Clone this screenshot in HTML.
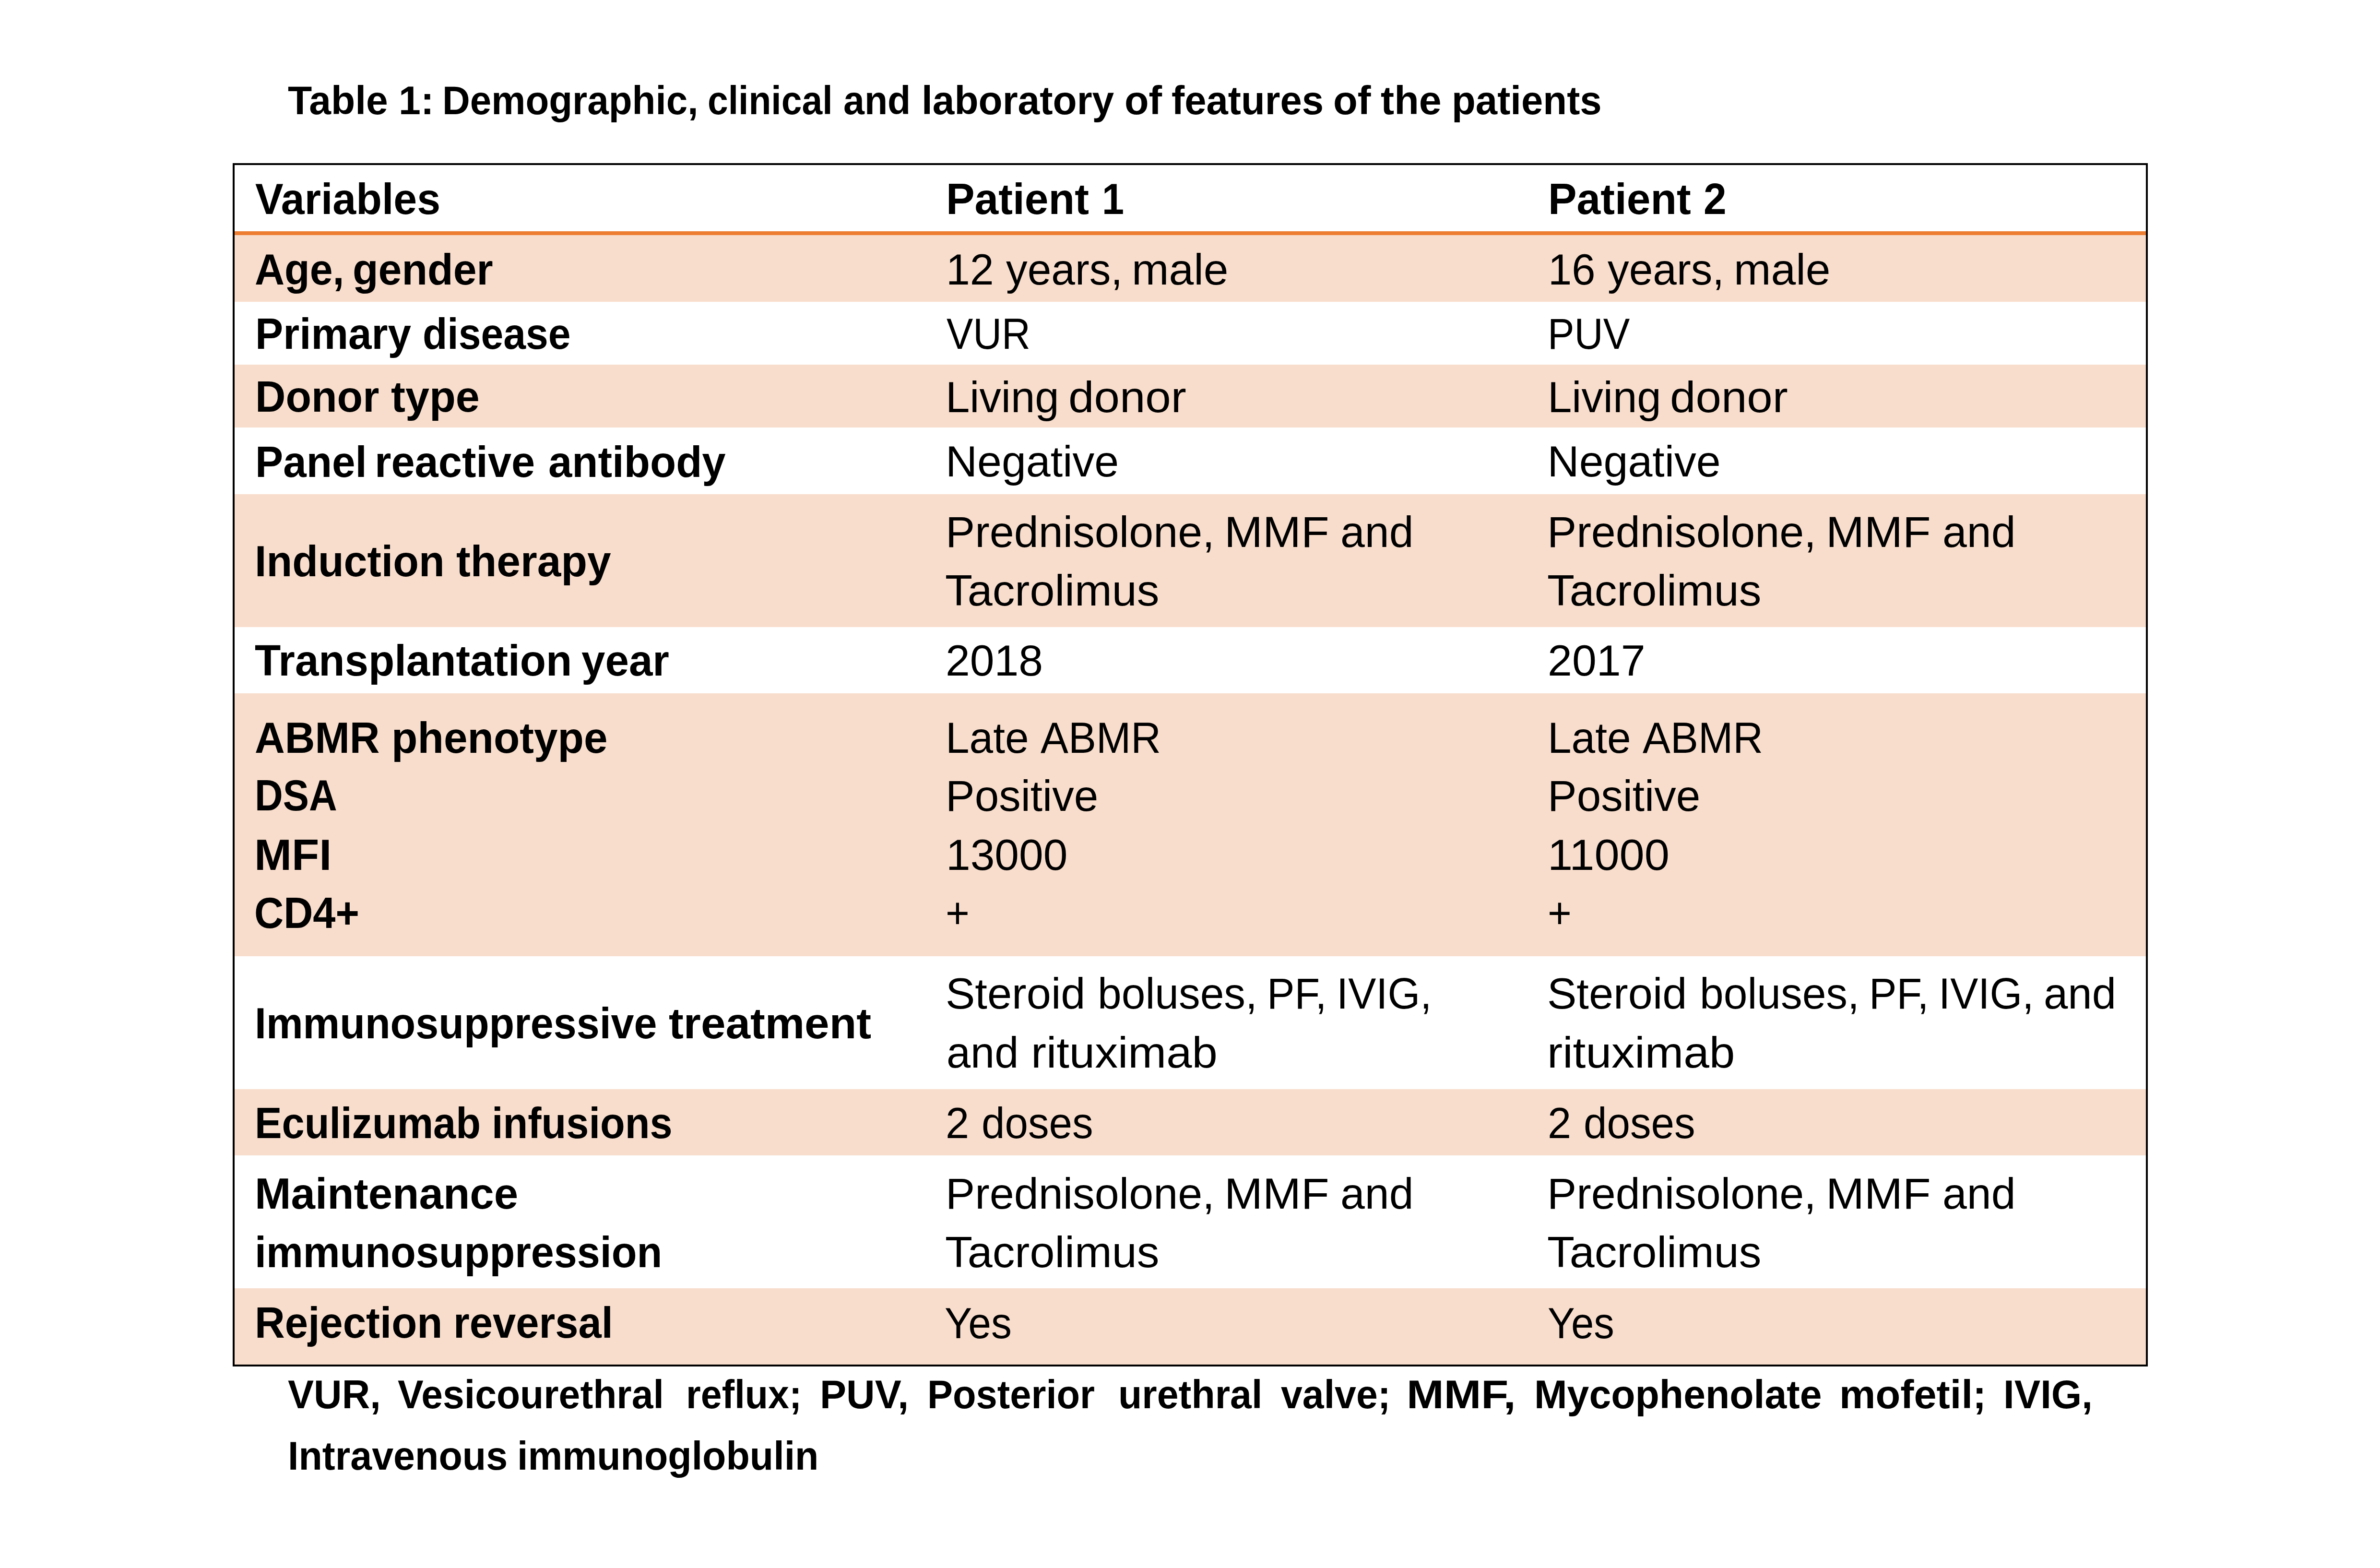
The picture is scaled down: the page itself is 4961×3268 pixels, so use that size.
<!DOCTYPE html>
<html><head><meta charset="utf-8"><title>Table 1</title><style>
html,body{margin:0;padding:0;background:#fff}
body{width:4961px;height:3268px;position:relative;overflow:hidden;font-family:"Liberation Sans",sans-serif;color:#000}
.r{position:absolute;left:489px;width:3984px;background:#F8DDCC}
.b{position:absolute;background:#000}
.t{position:absolute;white-space:nowrap;transform-origin:0 0}
.w7{font-weight:700}
</style></head><body>
<div class="r" style="top:490px;height:139px"></div>
<div class="r" style="top:760px;height:131px"></div>
<div class="r" style="top:1030px;height:277px"></div>
<div class="r" style="top:1445px;height:548px"></div>
<div class="r" style="top:2270px;height:138px"></div>
<div class="r" style="top:2685px;height:159px"></div>
<div style="position:absolute;left:489px;top:482px;width:3984px;height:8px;background:#ED7D31"></div>
<div class="b" style="left:485px;top:340px;width:3992px;height:4px"></div>
<div class="b" style="left:485px;top:2844px;width:3992px;height:4px"></div>
<div class="b" style="left:485px;top:340px;width:4px;height:2508px"></div>
<div class="b" style="left:4473px;top:340px;width:4px;height:2508px"></div>
<div class="t w7" style="left:600.21px;top:168.00px;font-size:83.5px;line-height:83.5px;transform:scaleX(0.9856)">Table</div>
<div class="t w7" style="left:830.66px;top:168.00px;font-size:83.5px;line-height:83.5px;transform:scaleX(0.9885)">1:</div>
<div class="t w7" style="left:922.45px;top:168.00px;font-size:83.5px;line-height:83.5px;transform:scaleX(0.9580)">Demographic,</div>
<div class="t w7" style="left:1474.84px;top:168.00px;font-size:83.5px;line-height:83.5px;transform:scaleX(0.9201)">clinical</div>
<div class="t w7" style="left:1757.81px;top:168.00px;font-size:83.5px;line-height:83.5px;transform:scaleX(0.9454)">and</div>
<div class="t w7" style="left:1920.90px;top:168.00px;font-size:83.5px;line-height:83.5px;transform:scaleX(0.9826)">laboratory</div>
<div class="t w7" style="left:2343.53px;top:168.00px;font-size:83.5px;line-height:83.5px;transform:scaleX(0.9908)">of</div>
<div class="t w7" style="left:2442.02px;top:168.00px;font-size:83.5px;line-height:83.5px;transform:scaleX(0.9759)">features</div>
<div class="t w7" style="left:2778.81px;top:168.00px;font-size:83.5px;line-height:83.5px;transform:scaleX(0.9974)">of</div>
<div class="t w7" style="left:2877.79px;top:168.00px;font-size:83.5px;line-height:83.5px;transform:scaleX(1.0116)">the</div>
<div class="t w7" style="left:3025.94px;top:168.00px;font-size:83.5px;line-height:83.5px;transform:scaleX(0.9768)">patients</div>
<div class="t w7" style="left:531.64px;top:368.50px;font-size:91.5px;line-height:91.5px;transform:scaleX(0.9607)">Variables</div>
<div class="t w7" style="left:1972.14px;top:368.50px;font-size:91.5px;line-height:91.5px;transform:scaleX(0.9765)">Patient</div>
<div class="t w7" style="left:2297.17px;top:368.50px;font-size:91.5px;line-height:91.5px;transform:scaleX(0.9048)">1</div>
<div class="t w7" style="left:3227.14px;top:368.50px;font-size:91.5px;line-height:91.5px;transform:scaleX(0.9758)">Patient</div>
<div class="t w7" style="left:3550.99px;top:368.50px;font-size:91.5px;line-height:91.5px;transform:scaleX(0.9364)">2</div>
<div class="t w7" style="left:530.72px;top:515.60px;font-size:91.5px;line-height:91.5px;transform:scaleX(0.9400)">Age,</div>
<div class="t w7" style="left:734.66px;top:515.60px;font-size:91.5px;line-height:91.5px;transform:scaleX(0.9593)">gender</div>
<div class="t w7" style="left:531.88px;top:650.00px;font-size:91.5px;line-height:91.5px;transform:scaleX(0.9536)">Primary</div>
<div class="t w7" style="left:881.03px;top:650.00px;font-size:91.5px;line-height:91.5px;transform:scaleX(0.9186)">disease</div>
<div class="t w7" style="left:531.85px;top:781.00px;font-size:91.5px;line-height:91.5px;transform:scaleX(0.9592)">Donor</div>
<div class="t w7" style="left:815.22px;top:781.00px;font-size:91.5px;line-height:91.5px;transform:scaleX(0.9821)">type</div>
<div class="t w7" style="left:531.88px;top:916.60px;font-size:91.5px;line-height:91.5px;transform:scaleX(0.9530)">Panel</div>
<div class="t w7" style="left:781.00px;top:916.60px;font-size:91.5px;line-height:91.5px;transform:scaleX(0.9662)">reactive</div>
<div class="t w7" style="left:1143.09px;top:916.60px;font-size:91.5px;line-height:91.5px;transform:scaleX(0.9698)">antibody</div>
<div class="t w7" style="left:531.03px;top:1124.00px;font-size:91.5px;line-height:91.5px;transform:scaleX(0.9613)">Induction</div>
<div class="t w7" style="left:950.92px;top:1124.00px;font-size:91.5px;line-height:91.5px;transform:scaleX(0.9760)">therapy</div>
<div class="t w7" style="left:530.83px;top:1331.00px;font-size:91.5px;line-height:91.5px;transform:scaleX(0.9706)">Transplantation</div>
<div class="t w7" style="left:1212.33px;top:1331.00px;font-size:91.5px;line-height:91.5px;transform:scaleX(0.9715)">year</div>
<div class="t w7" style="left:530.70px;top:1492.00px;font-size:91.5px;line-height:91.5px;transform:scaleX(0.9493)">ABMR</div>
<div class="t w7" style="left:815.86px;top:1492.00px;font-size:91.5px;line-height:91.5px;transform:scaleX(0.9740)">phenotype</div>
<div class="t w7" style="left:531.17px;top:1612.00px;font-size:91.5px;line-height:91.5px;transform:scaleX(0.8886)">DSA</div>
<div class="t w7" style="left:530.36px;top:1736.00px;font-size:91.5px;line-height:91.5px;transform:scaleX(1.0241)">MFI</div>
<div class="t w7" style="left:530.30px;top:1856.50px;font-size:91.5px;line-height:91.5px;transform:scaleX(0.9258)">CD4+</div>
<div class="t w7" style="left:531.15px;top:2086.50px;font-size:91.5px;line-height:91.5px;transform:scaleX(0.9423)">Immunosuppressive</div>
<div class="t w7" style="left:1393.99px;top:2086.50px;font-size:91.5px;line-height:91.5px;transform:scaleX(1.0123)">treatment</div>
<div class="t w7" style="left:531.24px;top:2295.00px;font-size:91.5px;line-height:91.5px;transform:scaleX(0.9263)">Eculizumab</div>
<div class="t w7" style="left:1024.94px;top:2295.00px;font-size:91.5px;line-height:91.5px;transform:scaleX(0.9262)">infusions</div>
<div class="t w7" style="left:530.56px;top:2442.00px;font-size:91.5px;line-height:91.5px;transform:scaleX(0.9908)">Maintenance</div>
<div class="t w7" style="left:530.84px;top:2563.60px;font-size:91.5px;line-height:91.5px;transform:scaleX(0.9439)">immunosuppression</div>
<div class="t w7" style="left:531.10px;top:2710.60px;font-size:91.5px;line-height:91.5px;transform:scaleX(0.9505)">Rejection</div>
<div class="t w7" style="left:945.01px;top:2710.60px;font-size:91.5px;line-height:91.5px;transform:scaleX(0.9481)">reversal</div>
<div class="t" style="left:1972.04px;top:516.00px;font-size:91.5px;line-height:91.5px;transform:scaleX(0.9800)">12</div>
<div class="t" style="left:3226.72px;top:516.00px;font-size:91.5px;line-height:91.5px;transform:scaleX(0.9692)">16</div>
<div class="t" style="left:2096.60px;top:516.00px;font-size:91.5px;line-height:91.5px;transform:scaleX(0.9759)">years,</div>
<div class="t" style="left:3351.20px;top:516.00px;font-size:91.5px;line-height:91.5px;transform:scaleX(0.9759)">years,</div>
<div class="t" style="left:2359.40px;top:516.00px;font-size:91.5px;line-height:91.5px;transform:scaleX(1.0165)">male</div>
<div class="t" style="left:3614.00px;top:516.00px;font-size:91.5px;line-height:91.5px;transform:scaleX(1.0165)">male</div>
<div class="t" style="left:1972.70px;top:649.70px;font-size:91.5px;line-height:91.5px;transform:scaleX(0.9048)">VUR</div>
<div class="t" style="left:3226.32px;top:650.40px;font-size:91.5px;line-height:91.5px;transform:scaleX(0.9101)">PUV</div>
<div class="t" style="left:1970.98px;top:781.50px;font-size:91.5px;line-height:91.5px;transform:scaleX(0.9898)">Living</div>
<div class="t" style="left:2226.80px;top:781.50px;font-size:91.5px;line-height:91.5px;transform:scaleX(1.0504)">donor</div>
<div class="t" style="left:3225.58px;top:781.50px;font-size:91.5px;line-height:91.5px;transform:scaleX(0.9898)">Living</div>
<div class="t" style="left:3481.40px;top:781.50px;font-size:91.5px;line-height:91.5px;transform:scaleX(1.0504)">donor</div>
<div class="t" style="left:1971.00px;top:916.30px;font-size:91.5px;line-height:91.5px;transform:scaleX(1.0000)">Negative</div>
<div class="t" style="left:3225.60px;top:916.30px;font-size:91.5px;line-height:91.5px;transform:scaleX(1.0000)">Negative</div>
<div class="t" style="left:1970.88px;top:1063.00px;font-size:91.5px;line-height:91.5px;transform:scaleX(1.0020)">Prednisolone,</div>
<div class="t" style="left:2551.61px;top:1063.00px;font-size:91.5px;line-height:91.5px;transform:scaleX(1.0492)">MMF</div>
<div class="t" style="left:2794.21px;top:1063.00px;font-size:91.5px;line-height:91.5px;transform:scaleX(0.9986)">and</div>
<div class="t" style="left:3225.48px;top:1063.00px;font-size:91.5px;line-height:91.5px;transform:scaleX(1.0020)">Prednisolone,</div>
<div class="t" style="left:3806.21px;top:1063.00px;font-size:91.5px;line-height:91.5px;transform:scaleX(1.0492)">MMF</div>
<div class="t" style="left:4048.81px;top:1063.00px;font-size:91.5px;line-height:91.5px;transform:scaleX(0.9986)">and</div>
<div class="t" style="left:1969.96px;top:1184.60px;font-size:91.5px;line-height:91.5px;transform:scaleX(1.0208)">Tacrolimus</div>
<div class="t" style="left:3224.56px;top:1184.60px;font-size:91.5px;line-height:91.5px;transform:scaleX(1.0208)">Tacrolimus</div>
<div class="t" style="left:1970.88px;top:2441.70px;font-size:91.5px;line-height:91.5px;transform:scaleX(1.0020)">Prednisolone,</div>
<div class="t" style="left:2551.61px;top:2441.70px;font-size:91.5px;line-height:91.5px;transform:scaleX(1.0492)">MMF</div>
<div class="t" style="left:2794.21px;top:2441.70px;font-size:91.5px;line-height:91.5px;transform:scaleX(0.9986)">and</div>
<div class="t" style="left:3225.48px;top:2441.70px;font-size:91.5px;line-height:91.5px;transform:scaleX(1.0020)">Prednisolone,</div>
<div class="t" style="left:3806.21px;top:2441.70px;font-size:91.5px;line-height:91.5px;transform:scaleX(1.0492)">MMF</div>
<div class="t" style="left:4048.81px;top:2441.70px;font-size:91.5px;line-height:91.5px;transform:scaleX(0.9986)">and</div>
<div class="t" style="left:1969.96px;top:2563.60px;font-size:91.5px;line-height:91.5px;transform:scaleX(1.0208)">Tacrolimus</div>
<div class="t" style="left:3224.56px;top:2563.60px;font-size:91.5px;line-height:91.5px;transform:scaleX(1.0208)">Tacrolimus</div>
<div class="t" style="left:1971.01px;top:1330.60px;font-size:91.5px;line-height:91.5px;transform:scaleX(0.9979)">2018</div>
<div class="t" style="left:3226.00px;top:1330.60px;font-size:91.5px;line-height:91.5px;transform:scaleX(1.0000)">2017</div>
<div class="t" style="left:1971.10px;top:1492.00px;font-size:91.5px;line-height:91.5px;transform:scaleX(0.9747)">Late</div>
<div class="t" style="left:2169.05px;top:1492.00px;font-size:91.5px;line-height:91.5px;transform:scaleX(0.9494)">ABMR</div>
<div class="t" style="left:3225.70px;top:1492.00px;font-size:91.5px;line-height:91.5px;transform:scaleX(0.9747)">Late</div>
<div class="t" style="left:3423.65px;top:1492.00px;font-size:91.5px;line-height:91.5px;transform:scaleX(0.9494)">ABMR</div>
<div class="t" style="left:1971.05px;top:1613.00px;font-size:91.5px;line-height:91.5px;transform:scaleX(0.9935)">Positive</div>
<div class="t" style="left:3225.65px;top:1613.00px;font-size:91.5px;line-height:91.5px;transform:scaleX(0.9935)">Positive</div>
<div class="t" style="left:1972.03px;top:1736.00px;font-size:91.5px;line-height:91.5px;transform:scaleX(0.9959)">13000</div>
<div class="t" style="left:3226.42px;top:1736.00px;font-size:91.5px;line-height:91.5px;transform:scaleX(1.0253)">11000</div>
<div class="t" style="left:1971.27px;top:1856.50px;font-size:91.5px;line-height:91.5px;transform:scaleX(0.9333)">+</div>
<div class="t" style="left:3226.27px;top:1856.50px;font-size:91.5px;line-height:91.5px;transform:scaleX(0.9333)">+</div>
<div class="t" style="left:1970.68px;top:2025.40px;font-size:91.5px;line-height:91.5px;transform:scaleX(1.0054)">Steroid</div>
<div class="t" style="left:2288.14px;top:2025.40px;font-size:91.5px;line-height:91.5px;transform:scaleX(0.9768)">boluses,</div>
<div class="t" style="left:2641.46px;top:2025.40px;font-size:91.5px;line-height:91.5px;transform:scaleX(0.9422)">PF,</div>
<div class="t" style="left:2786.38px;top:2025.40px;font-size:91.5px;line-height:91.5px;transform:scaleX(0.9521)">IVIG,</div>
<div class="t" style="left:3225.28px;top:2025.40px;font-size:91.5px;line-height:91.5px;transform:scaleX(1.0054)">Steroid</div>
<div class="t" style="left:3542.74px;top:2025.40px;font-size:91.5px;line-height:91.5px;transform:scaleX(0.9768)">boluses,</div>
<div class="t" style="left:3896.06px;top:2025.40px;font-size:91.5px;line-height:91.5px;transform:scaleX(0.9422)">PF,</div>
<div class="t" style="left:4040.98px;top:2025.40px;font-size:91.5px;line-height:91.5px;transform:scaleX(0.9521)">IVIG,</div>
<div class="t" style="left:4260.24px;top:2025.40px;font-size:91.5px;line-height:91.5px;transform:scaleX(0.9888)">and</div>
<div class="t" style="left:1972.86px;top:2147.80px;font-size:91.5px;line-height:91.5px;transform:scaleX(0.9846)">and</div>
<div class="t" style="left:2149.12px;top:2147.80px;font-size:91.5px;line-height:91.5px;transform:scaleX(1.0474)">rituximab</div>
<div class="t" style="left:3224.67px;top:2147.80px;font-size:91.5px;line-height:91.5px;transform:scaleX(1.0548)">rituximab</div>
<div class="t" style="left:1971.17px;top:2294.80px;font-size:91.5px;line-height:91.5px;transform:scaleX(0.9659)">2</div>
<div class="t" style="left:2045.99px;top:2294.80px;font-size:91.5px;line-height:91.5px;transform:scaleX(0.9527)">doses</div>
<div class="t" style="left:3225.77px;top:2294.80px;font-size:91.5px;line-height:91.5px;transform:scaleX(0.9659)">2</div>
<div class="t" style="left:3300.59px;top:2294.80px;font-size:91.5px;line-height:91.5px;transform:scaleX(0.9527)">doses</div>
<div class="t" style="left:1969.19px;top:2711.70px;font-size:91.5px;line-height:91.5px;transform:scaleX(0.9371)">Yes</div>
<div class="t" style="left:3225.61px;top:2711.70px;font-size:91.5px;line-height:91.5px;transform:scaleX(0.9294)">Yes</div>
<div class="t w7" style="left:600.03px;top:2865.00px;font-size:83.5px;line-height:83.5px;transform:scaleX(0.9710)">VUR,</div>
<div class="t w7" style="left:828.74px;top:2865.00px;font-size:83.5px;line-height:83.5px;transform:scaleX(0.9641)">Vesicourethral</div>
<div class="t w7" style="left:1429.83px;top:2865.00px;font-size:83.5px;line-height:83.5px;transform:scaleX(0.9456)">reflux;</div>
<div class="t w7" style="left:1708.56px;top:2865.00px;font-size:83.5px;line-height:83.5px;transform:scaleX(0.9892)">PUV,</div>
<div class="t w7" style="left:1933.29px;top:2865.00px;font-size:83.5px;line-height:83.5px;transform:scaleX(0.9521)">Posterior</div>
<div class="t w7" style="left:2330.77px;top:2865.00px;font-size:83.5px;line-height:83.5px;transform:scaleX(0.9660)">urethral</div>
<div class="t w7" style="left:2669.83px;top:2865.00px;font-size:83.5px;line-height:83.5px;transform:scaleX(0.9658)">valve;</div>
<div class="t w7" style="left:2932.00px;top:2865.00px;font-size:83.5px;line-height:83.5px;transform:scaleX(1.1161)">MMF,</div>
<div class="t w7" style="left:3198.28px;top:2865.00px;font-size:83.5px;line-height:83.5px;transform:scaleX(0.9863)">Mycophenolate</div>
<div class="t w7" style="left:3834.41px;top:2865.00px;font-size:83.5px;line-height:83.5px;transform:scaleX(1.0156)">mofetil;</div>
<div class="t w7" style="left:4176.13px;top:2865.00px;font-size:83.5px;line-height:83.5px;transform:scaleX(0.9777)">IVIG,</div>
<div class="t w7" style="left:600.39px;top:2993.00px;font-size:83.5px;line-height:83.5px;transform:scaleX(0.9679)">Intravenous</div>
<div class="t w7" style="left:1077.69px;top:2993.00px;font-size:83.5px;line-height:83.5px;transform:scaleX(0.9679)">immunoglobulin</div>
</body></html>
